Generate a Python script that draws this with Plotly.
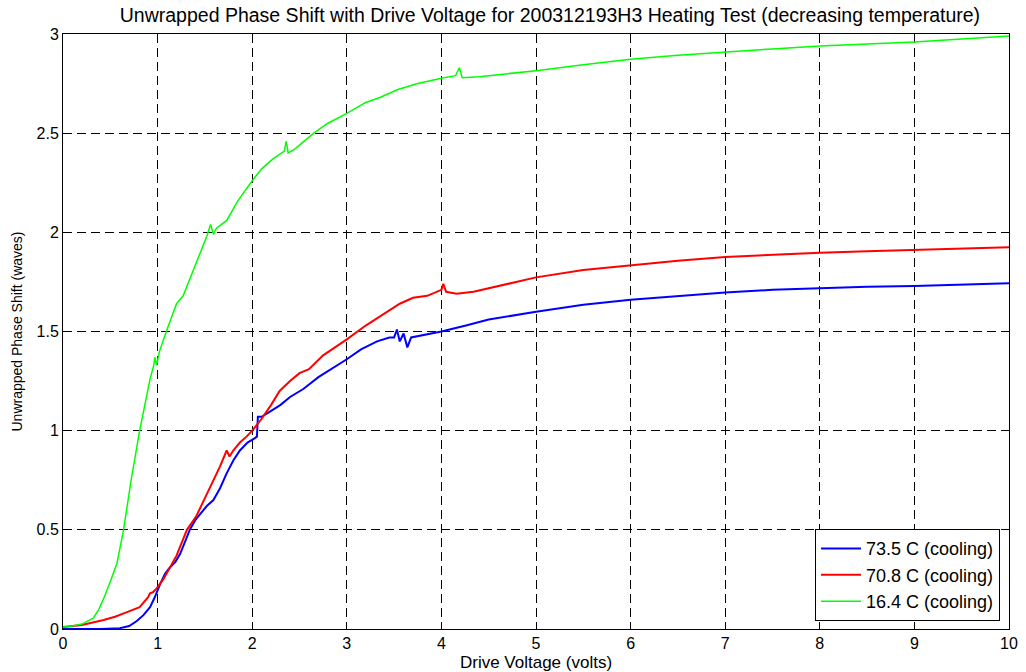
import plotly.graph_objects as go

# Drive voltage (volts) and unwrapped phase shift (waves) for each cooling run
v_735 = [0, 0.2, 0.4, 0.6, 0.7, 0.78, 0.85, 0.92, 0.97, 1.03, 1.08, 1.13, 1.19, 1.24,
         1.3, 1.34, 1.4, 1.45, 1.52, 1.59, 1.66, 1.73, 1.8, 1.87, 1.95, 2.02, 2.05, 2.06,
         2.1, 2.2, 2.3, 2.4, 2.54, 2.7, 2.85, 3.0, 3.15, 3.32, 3.45, 3.5, 3.53, 3.56, 3.6,
         3.64, 3.68, 3.8, 4.0, 4.26, 4.5, 5.0, 5.5, 6.0, 6.5, 7.0, 7.5, 8.0, 8.5, 9.0, 9.5, 10]
y_735 = [0, 0, 0, 0.004, 0.015, 0.04, 0.07, 0.11, 0.16, 0.23, 0.28, 0.31, 0.34, 0.38,
         0.45, 0.5, 0.55, 0.58, 0.62, 0.65, 0.71, 0.785, 0.85, 0.9, 0.94, 0.96, 0.97, 1.07,
         1.07, 1.1, 1.13, 1.17, 1.21, 1.27, 1.315, 1.36, 1.41, 1.45, 1.47, 1.47, 1.51, 1.45, 1.49,
         1.42, 1.47, 1.48, 1.50, 1.53, 1.56, 1.60, 1.635, 1.66, 1.68, 1.697, 1.71, 1.719, 1.726,
         1.73, 1.737, 1.743]

v_708 = [0, 0.2, 0.43, 0.55, 0.67, 0.81, 0.9, 0.92, 0.95, 0.99, 1.06, 1.13, 1.2, 1.31,
         1.41, 1.5, 1.59, 1.66, 1.73, 1.76, 1.8, 1.87, 1.94, 2.0, 2.1, 2.2, 2.29, 2.4, 2.5,
         2.6, 2.75, 3.0, 3.2, 3.4, 3.56, 3.7, 3.85, 4.0, 4.02, 4.05, 4.16, 4.34, 4.6, 5.0,
         5.5, 6.0, 6.5, 7.0, 7.5, 8.0, 8.5, 9.0, 9.5, 10]
y_708 = [0.01, 0.02, 0.045, 0.062, 0.084, 0.11, 0.16, 0.18, 0.185, 0.205, 0.25, 0.31, 0.37, 0.5,
         0.57, 0.66, 0.75, 0.82, 0.9, 0.87, 0.9, 0.94, 0.97, 1.0, 1.06, 1.13, 1.2, 1.25, 1.29,
         1.31, 1.38, 1.46, 1.53, 1.59, 1.64, 1.67, 1.68, 1.71, 1.74, 1.70, 1.69, 1.70, 1.73, 1.773,
         1.81, 1.834, 1.857, 1.876, 1.888, 1.897, 1.905, 1.912, 1.918, 1.925]

v_164 = [0, 0.1, 0.2, 0.32, 0.38, 0.44, 0.5, 0.57, 0.64, 0.72, 0.81, 0.86, 0.92, 0.96, 0.97,
         0.99, 1.02, 1.1, 1.2, 1.27, 1.38, 1.52, 1.56, 1.59, 1.62, 1.73, 1.85, 2.0, 2.1, 2.22,
         2.34, 2.36, 2.38, 2.45, 2.55, 2.65, 2.8, 3.0, 3.2, 3.35, 3.54, 3.75, 4.0, 4.15, 4.19,
         4.22, 4.4, 4.7, 5.0, 5.5, 6.0, 6.5, 7.0, 7.5, 8.0, 8.5, 9.0, 9.5, 10]
y_164 = [0.01, 0.015, 0.025, 0.055, 0.1, 0.165, 0.24, 0.33, 0.5, 0.75, 1.0, 1.12, 1.26, 1.33, 1.37,
         1.33, 1.4, 1.51, 1.64, 1.68, 1.81, 1.98, 2.04, 1.99, 2.02, 2.06, 2.16, 2.26, 2.32, 2.37,
         2.41, 2.46, 2.40, 2.42, 2.46, 2.50, 2.55, 2.60, 2.655, 2.68, 2.72, 2.75, 2.777, 2.79, 2.83,
         2.78, 2.785, 2.80, 2.815, 2.845, 2.873, 2.893, 2.91, 2.925, 2.94, 2.95, 2.96, 2.975, 2.99]

series = [
    ("73.5 C (cooling)", v_735, y_735, "#0000ff", 2.0),
    ("70.8 C (cooling)", v_708, y_708, "#ff0000", 2.0),
    ("16.4 C (cooling)", v_164, y_164, "#00ff00", 1.5),
]

x_ticks = list(range(0, 11))
y_ticks = [0, 0.5, 1, 1.5, 2, 2.5, 3]
y_tick_text = ["0", "0.5", "1", "1.5", "2", "2.5", "3"]

FONT = "Liberation Sans, Arial, Helvetica, sans-serif"

fig = go.Figure()
for name, vx, vy, color, w in series:
    fig.add_trace(go.Scatter(x=vx, y=vy, mode="lines", name=name,
                             line=dict(color=color, width=w)))

axis_common = dict(
    showline=True, linecolor="black", linewidth=1, mirror="ticks",
    ticks="inside", ticklen=5, tickcolor="black", automargin=False,
    showgrid=True, gridcolor="#000000", griddash="9px,5px", gridwidth=0.8,
    zeroline=False, tickfont=dict(family=FONT, size=16, color="black"),
)

fig.update_layout(
    width=1026, height=672,
    margin=dict(l=63, r=17, t=34, b=43),
    paper_bgcolor="white", plot_bgcolor="white",
    font=dict(family=FONT, color="black"),
    title=dict(text="Unwrapped Phase Shift with Drive Voltage for 200312193H3 Heating Test (decreasing temperature)",
               x=0.536, xanchor="center", y=0.977, yanchor="middle",
               font=dict(family=FONT, size=19.5, color="black")),
    xaxis=dict(range=[0, 10], tickvals=x_ticks,
               title=dict(text="Drive Voltage (volts)", standoff=4,
                          font=dict(family=FONT, size=17)),
               **axis_common),
    yaxis=dict(range=[0, 3], tickvals=y_ticks, ticktext=y_tick_text,
               title=dict(text="Unwrapped Phase Shift (waves)", standoff=10,
                          font=dict(family=FONT, size=14)),
               **axis_common),
    legend=dict(x=0.9905, xanchor="right", y=0.013, yanchor="bottom",
                bgcolor="white", bordercolor="black", borderwidth=1,
                font=dict(family=FONT, size=18, color="black"),
                tracegroupgap=0, itemwidth=40),
    showlegend=True,
)

fig.write_html("out.html")
